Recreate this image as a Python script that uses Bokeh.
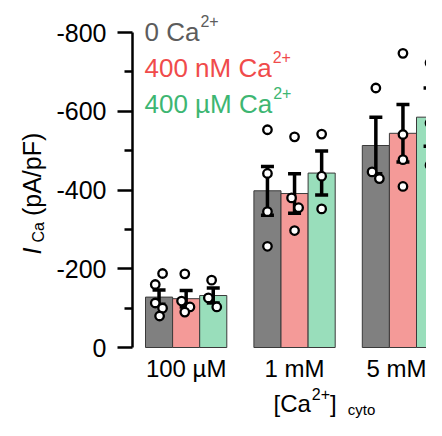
import math
from bokeh.plotting import figure
from bokeh.models import Range1d, FixedTicker, Label
from bokeh.embed import file_html
from bokeh.resources import INLINE

# ---------------- data (pA/pF, inward current negative) ----------------
groups = ["100 µM", "1 mM", "5 mM"]
series_names = ["0 Ca", "400 nM Ca", "400 µM Ca"]

mean_0ca = [-128, -398, -513]
mean_400nM = [-124, -391, -544]
mean_400uM = [-132, -443, -585]

sem_0ca = [18, 62, 72]
sem_400nM = [21, 50, 73]
sem_400uM = [19, 56, 74]

points_0ca = [[-188, -160, -113, -100, -80], [-553, -442, -345, -257], [-659, -446, -429]]
points_400nM = [[-187, -118, -103, -90], [-535, -380, -355, -297], [-747, -541, -477, -409]]
points_400uM = [[-171, -126, -103], [-542, -435, -352], [-723, -570, -463]]

# horizontal scatter of the individual cells, as a fraction of a bar width
jitter_0ca = [[0.13, -0.14, -0.14, 0.13, 0.02], [0, 0, 0, 0], [0, -0.14, 0.13]]
jitter_400nM = [[-0.05, -0.17, 0.14, -0.05], [0, -0.11, 0.15, 0], [0, 0, 0, 0]]
jitter_400uM = [[-0.06, -0.18, 0.13], [0, 0, 0], [0, 0, 0]]

y_ticks = [0, -200, -400, -600, -800]
y_tick_labels = ["0", "-200", "-400", "-600", "-800"]
y_minor = [-100, -300, -500, -700]

# ---------------- styling / layout ----------------
FONT = "Liberation Sans"
fill_colors = ["#808080", "#F49A98", "#99DEBB"]
text_colors = ["#5c5c5c", "#F04B4B", "#3DB672"]

FIG_W, FIG_H = 426, 420
BAR_PX = 27.1                 # one bar width in pixels
PX_PER_Y = 315 / 800          # pixels per pA/pF
GROUP_STEP = 4                # group spacing in bar widths
ZERO_PX = 347                 # pixel row of 0 pA/pF
FIRST_BAR_PX = 145            # left edge of first bar
AXIS_PX = 132                 # pixel column of the y axis

x_start = -1.5 - FIRST_BAR_PX / BAR_PX
x_end = x_start + FIG_W / BAR_PX
y_start = (FIG_H - ZERO_PX) / PX_PER_Y
y_end = -ZERO_PX / PX_PER_Y

def dx(px):
    return x_start + px / BAR_PX

def dy(py):
    return -(ZERO_PX - py) / PX_PER_Y

p = figure(width=FIG_W, height=FIG_H, output_backend="svg", toolbar_location=None,
           x_range=Range1d(x_start, x_end), y_range=Range1d(y_start, y_end),
           min_border_left=0, min_border_right=0, min_border_top=0, min_border_bottom=0)
p.outline_line_color = None
p.xgrid.visible = False
p.ygrid.visible = False
p.background_fill_color = "white"
p.border_fill_color = "white"

means = [mean_0ca, mean_400nM, mean_400uM]
sems = [sem_0ca, sem_400nM, sem_400uM]
pts = [points_0ca, points_400nM, points_400uM]
jits = [jitter_0ca, jitter_400nM, jitter_400uM]

cap_w = 13 / BAR_PX

for s in range(3):
    xs = [g * GROUP_STEP + (s - 1) for g in range(len(groups))]
    p.vbar(x=xs, top=means[s], bottom=0, width=1.0, fill_color=fill_colors[s],
           line_color="#3a3a3a", line_width=1)

for s in range(3):
    xs = [g * GROUP_STEP + (s - 1) for g in range(len(groups))]
    up = [m - e for m, e in zip(means[s], sems[s])]
    lo = [m + e for m, e in zip(means[s], sems[s])]
    p.segment(x0=xs, y0=lo, x1=xs, y1=up, line_color="black", line_width=3.5)
    p.segment(x0=[x - cap_w / 2 for x in xs] * 2, y0=up + lo,
              x1=[x + cap_w / 2 for x in xs] * 2, y1=up + lo,
              line_color="black", line_width=3.5)

for s in range(3):
    px, py = [], []
    for g in range(len(groups)):
        for v, j in zip(pts[s][g], jits[s][g]):
            px.append(g * GROUP_STEP + (s - 1) + j)
            py.append(v)
    p.scatter(x=px, y=py, size=8.5, fill_color="white", line_color="black", line_width=2.3)

# ---------------- axes (drawn at fixed positions inside the canvas) ----------------
ya = p.yaxis[0]
ya.fixed_location = dx(AXIS_PX)
ya.ticker = FixedTicker(ticks=y_ticks, minor_ticks=y_minor)
ya.major_label_overrides = {t: l for t, l in zip(y_ticks, y_tick_labels)}
ya.bounds = (-800, 0)
ya.axis_line_width = 2.5
ya.major_tick_line_width = 2.5
ya.minor_tick_line_width = 2.5
ya.major_tick_out = 15
ya.major_tick_in = 0
ya.minor_tick_out = 8
ya.minor_tick_in = 0
ya.major_label_standoff = 11
ya.major_label_text_font = FONT
ya.major_label_text_font_size = "25px"
ya.major_label_text_color = "black"

xa = p.xaxis[0]
xa.fixed_location = 0
xa.ticker = FixedTicker(ticks=[g * GROUP_STEP for g in range(len(groups))], minor_ticks=[])
xa.major_label_overrides = {g * GROUP_STEP: groups[g] for g in range(len(groups))}
xa.axis_line_color = None
xa.major_tick_line_color = None
xa.minor_tick_line_color = None
xa.major_tick_out = 0
xa.major_tick_in = 0
xa.major_label_standoff = 7
xa.major_label_text_font = FONT
xa.major_label_text_font_size = "24px"
xa.major_label_text_color = "black"

# ---------------- text helpers ----------------
W = {'0': 556, '1': 556, '2': 556, '4': 556, '5': 556, ' ': 278, 'C': 722, 'a': 556,
     'n': 556, 'M': 833, 'µ': 576, '[': 278, ']': 278, '+': 584, '(': 333, ')': 333,
     'p': 556, 'A': 667, '/': 278, 'F': 611, 'I': 278, 'c': 500, 'y': 500, 't': 278, 'o': 556}

def tw(s, size):
    return sum(W.get(ch, 556) for ch in s) / 1000 * size

def lab(x, y, text, size, color="black", angle=0.0, style="normal"):
    p.add_layout(Label(x=x, y=y, text=text, text_font=FONT, text_font_size=f"{size}px",
                       text_color=color, text_align="left", text_baseline="alphabetic",
                       angle=angle, text_font_style=style))

# legend text
LEG, SUP = 26, 16
for i, name in enumerate(series_names):
    base = 31 + 36 * i
    x0 = 144
    lab(dx(x0), dy(base), name, LEG, text_colors[i])
    lab(dx(x0 + tw(name, LEG) + 1), dy(base - 10.5), "2+", SUP, text_colors[i])

# x axis title: [Ca2+] cyto
MAIN = 24
xb = 403
x0 = 273
lab(dx(x0), dy(xb), "[Ca", MAIN)
x1 = x0 + tw("[Ca", MAIN) + 1
lab(dx(x1), dy(xb - 10), "2+", SUP)
x2 = x1 + tw("2+", SUP)
lab(dx(x2), dy(xb), "]", MAIN)
x3 = x2 + tw("]", MAIN) + 11
lab(dx(x3), dy(xb + 6), "cyto", 15)

# y axis title: I_Ca (pA/pF), rotated
ang = math.pi / 2
yb = 31
y0 = 254
lab(dx(yb), dy(y0), "I", 25, angle=ang, style="italic")
y1 = y0 - tw("I", 25) - 5
lab(dx(yb + 7), dy(y1), "Ca", SUP, angle=ang)
y2 = y1 - tw("Ca", SUP) - 6
lab(dx(yb), dy(y2), "(pA/pF)", 25, angle=ang)

open("out.html", "w").write(file_html(p, INLINE))
